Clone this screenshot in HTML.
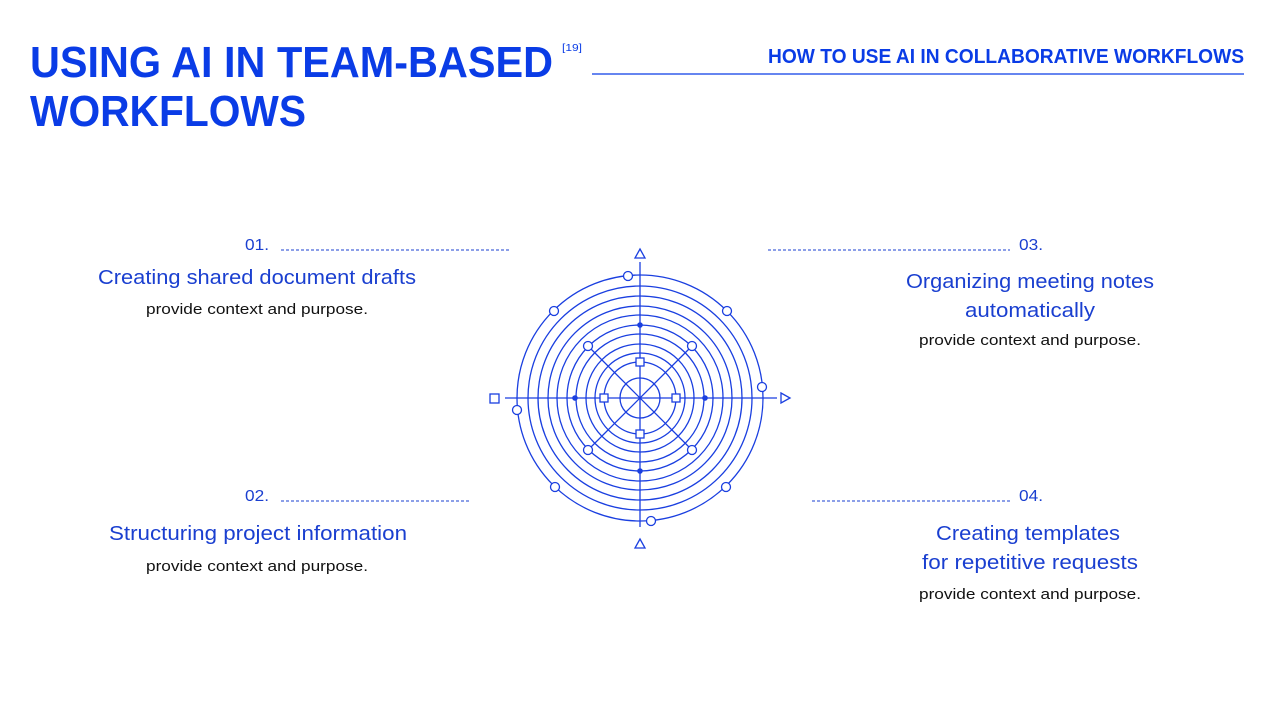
<!DOCTYPE html>
<html><head><meta charset="utf-8"><style>
html,body{margin:0;padding:0;background:#fff;}
svg{display:block}
text{font-family:"Liberation Sans",sans-serif;}
</style></head><body>
<svg width="1280" height="720" viewBox="0 0 1280 720" xmlns="http://www.w3.org/2000/svg">
<rect width="1280" height="720" fill="#fff"/>
<g fill="#0a3ce6" font-weight="bold">
<text x="30" y="77" font-size="44" textLength="523" lengthAdjust="spacingAndGlyphs">USING AI IN TEAM-BASED</text>
<text x="30" y="126" font-size="44" textLength="276" lengthAdjust="spacingAndGlyphs">WORKFLOWS</text>
<text x="562" y="51" font-size="10" font-weight="normal" textLength="20" lengthAdjust="spacingAndGlyphs">[19]</text>
<text x="768" y="63" font-size="20" textLength="476" lengthAdjust="spacingAndGlyphs">HOW TO USE AI IN COLLABORATIVE WORKFLOWS</text>
</g>
<line x1="592" y1="74" x2="1244" y2="74" stroke="#0a3ce6" stroke-width="1.2"/>
<g stroke="#1a3fd0" stroke-width="1" stroke-dasharray="3,2">
<line x1="281" y1="250" x2="509" y2="250"/>
<line x1="281" y1="501" x2="469" y2="501"/>
<line x1="768" y1="250" x2="1010" y2="250"/>
<line x1="812" y1="501" x2="1010" y2="501"/>
</g>
<g fill="#1a3fd0" font-size="16">
<text x="245" y="250" textLength="24" lengthAdjust="spacingAndGlyphs">01.</text>
<text x="245" y="501" textLength="24" lengthAdjust="spacingAndGlyphs">02.</text>
<text x="1019" y="250" textLength="24" lengthAdjust="spacingAndGlyphs">03.</text>
<text x="1019" y="501" textLength="24" lengthAdjust="spacingAndGlyphs">04.</text>
</g>
<g fill="#1a3fd0" font-size="20" text-anchor="middle">
<text x="257" y="284" textLength="318" lengthAdjust="spacingAndGlyphs">Creating shared document drafts</text>
<text x="258" y="540" textLength="298" lengthAdjust="spacingAndGlyphs">Structuring project information</text>
<text x="1030" y="288" textLength="248" lengthAdjust="spacingAndGlyphs">Organizing meeting notes</text>
<text x="1030" y="317" textLength="130" lengthAdjust="spacingAndGlyphs">automatically</text>
<text x="1028" y="540" textLength="184" lengthAdjust="spacingAndGlyphs">Creating templates</text>
<text x="1030" y="569" textLength="216" lengthAdjust="spacingAndGlyphs">for repetitive requests</text>
</g>
<g fill="#111" font-size="15" text-anchor="middle">
<text x="257" y="314" textLength="222" lengthAdjust="spacingAndGlyphs">provide context and purpose.</text>
<text x="257" y="571" textLength="222" lengthAdjust="spacingAndGlyphs">provide context and purpose.</text>
<text x="1030" y="345" textLength="222" lengthAdjust="spacingAndGlyphs">provide context and purpose.</text>
<text x="1030" y="599" textLength="222" lengthAdjust="spacingAndGlyphs">provide context and purpose.</text>
</g>
<g stroke="#1a3fe0" stroke-width="1.3" fill="none">
<circle cx="640" cy="398" r="123"/>
<circle cx="640" cy="398" r="112"/>
<circle cx="640" cy="398" r="102"/>
<circle cx="640" cy="398" r="92"/>
<circle cx="640" cy="398" r="83"/>
<circle cx="640" cy="398" r="73"/>
<circle cx="640" cy="398" r="64"/>
<circle cx="640" cy="398" r="54"/>
<circle cx="640" cy="398" r="45"/>
<circle cx="640" cy="398" r="36"/>
<circle cx="640" cy="398" r="20"/>
<line x1="640" y1="262" x2="640" y2="527"/>
<line x1="505" y1="398" x2="777" y2="398"/>
<line x1="588" y1="346" x2="692" y2="450"/>
<line x1="692" y1="346" x2="588" y2="450"/>
</g>
<g stroke="#1a3fe0" stroke-width="1.3" fill="#fff">
<circle cx="628" cy="276" r="4.5"/>
<circle cx="554" cy="311" r="4.5"/>
<circle cx="727" cy="311" r="4.5"/>
<circle cx="762" cy="387" r="4.5"/>
<circle cx="517" cy="410" r="4.5"/>
<circle cx="555" cy="487" r="4.5"/>
<circle cx="726" cy="487" r="4.5"/>
<circle cx="651" cy="521" r="4.5"/>
<circle cx="588" cy="346" r="4.5"/>
<circle cx="692" cy="346" r="4.5"/>
<circle cx="588" cy="450" r="4.5"/>
<circle cx="692" cy="450" r="4.5"/>
<rect x="636" y="358" width="8" height="8"/>
<rect x="636" y="430" width="8" height="8"/>
<rect x="600" y="394" width="8" height="8"/>
<rect x="672" y="394" width="8" height="8"/>
<rect x="490" y="394" width="9" height="9"/>
<polygon points="640,249 645,258 635,258"/>
<polygon points="640,539 645,548 635,548"/>
<polygon points="781,393 790,398 781,403"/>
</g>
<g fill="#1a3fe0">
<circle cx="640" cy="325" r="2.8"/>
<circle cx="640" cy="471" r="2.8"/>
<circle cx="575" cy="398" r="2.8"/>
<circle cx="705" cy="398" r="2.8"/>
</g>
</svg>
</body></html>
